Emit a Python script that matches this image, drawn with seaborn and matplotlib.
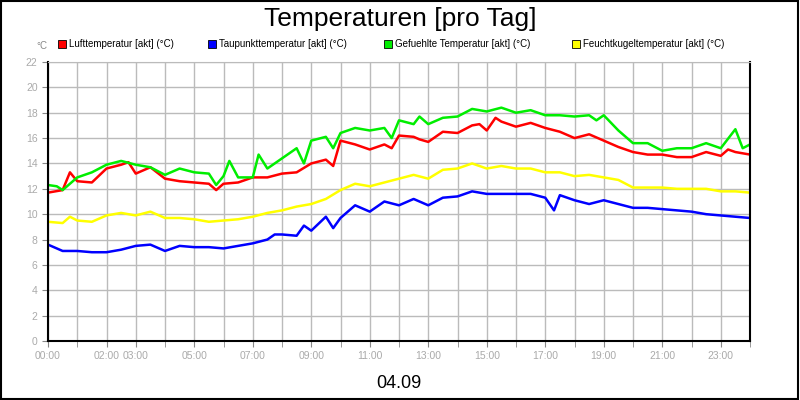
import numpy as np
import pandas as pd
import matplotlib
matplotlib.use("Agg")
import matplotlib.pyplot as plt
import seaborn as sns
from matplotlib.patches import Rectangle

plt.rcParams["font.family"] = "Liberation Sans"

# data (hour of day, degC)
t_luft = [0, .5, .75, 1, 1.5, 2, 2.5, 2.75, 3, 3.5, 4, 4.5, 5, 5.5, 5.75, 6, 6.5, 7, 7.5, 8, 8.5, 9, 9.5, 9.75,
          10, 10.5, 11, 11.5, 11.75, 12, 12.5, 12.7, 13, 13.5, 14, 14.5, 14.75, 15, 15.3, 15.5, 16, 16.5, 17,
          17.5, 18, 18.5, 19, 19.5, 20, 20.5, 21, 21.5, 22, 22.5, 23, 23.25, 23.5, 24]
v_luft = [11.7, 11.9, 13.3, 12.6, 12.5, 13.6, 13.9, 14.1, 13.2, 13.7, 12.8, 12.6, 12.5, 12.4, 11.9, 12.4, 12.5,
          12.9, 12.9, 13.2, 13.3, 14.0, 14.3, 13.8, 15.8, 15.5, 15.1, 15.5, 15.2, 16.2, 16.1, 15.9, 15.7, 16.5,
          16.4, 17.0, 17.1, 16.6, 17.6, 17.3, 16.9, 17.2, 16.8, 16.5, 16.0, 16.3, 15.8, 15.3, 14.9, 14.7, 14.7,
          14.5, 14.5, 14.9, 14.6, 15.1, 14.9, 14.7]

t_taup = [0, .5, 1, 1.5, 2, 2.5, 3, 3.5, 4, 4.5, 5, 5.5, 6, 6.5, 7, 7.5, 7.75, 8, 8.5, 8.75, 9, 9.5, 9.75, 10,
          10.5, 11, 11.5, 12, 12.5, 13, 13.5, 14, 14.5, 15, 15.5, 16, 16.5, 17, 17.3, 17.5, 18, 18.5, 19, 19.5,
          20, 20.5, 21, 21.5, 22, 22.5, 23, 23.5, 24]
v_taup = [7.6, 7.1, 7.1, 7.0, 7.0, 7.2, 7.5, 7.6, 7.1, 7.5, 7.4, 7.4, 7.3, 7.5, 7.7, 8.0, 8.4, 8.4, 8.3, 9.1,
          8.7, 9.8, 8.9, 9.7, 10.7, 10.2, 11.0, 10.7, 11.2, 10.7, 11.3, 11.4, 11.8, 11.6, 11.6, 11.6, 11.6,
          11.3, 10.3, 11.5, 11.1, 10.8, 11.1, 10.8, 10.5, 10.5, 10.4, 10.3, 10.2, 10.0, 9.9, 9.8, 9.7]

t_gef = [0, .3, .5, 1, 1.5, 2, 2.5, 3, 3.5, 4, 4.5, 5, 5.5, 5.75, 6, 6.2, 6.5, 7, 7.2, 7.5, 8, 8.5, 8.75, 9, 9.5,
         9.75, 10, 10.5, 11, 11.5, 11.75, 12, 12.5, 12.7, 13, 13.5, 14, 14.5, 15, 15.5, 16, 16.5, 17, 17.5, 18,
         18.5, 18.75, 19, 19.5, 20, 20.5, 21, 21.5, 22, 22.5, 23, 23.5, 23.75, 24]
v_gef = [12.3, 12.2, 11.9, 12.9, 13.3, 13.9, 14.2, 13.9, 13.7, 13.1, 13.6, 13.3, 13.2, 12.3, 13.0, 14.2, 12.9,
         12.9, 14.7, 13.6, 14.4, 15.2, 14.0, 15.8, 16.1, 15.2, 16.4, 16.8, 16.6, 16.8, 16.0, 17.4, 17.1, 17.7,
         17.1, 17.6, 17.7, 18.3, 18.1, 18.4, 18.0, 18.2, 17.8, 17.8, 17.7, 17.8, 17.4, 17.8, 16.6, 15.6, 15.6,
         15.0, 15.2, 15.2, 15.6, 15.2, 16.7, 15.2, 15.5]

t_feucht = [0, .5, .75, 1, 1.5, 2, 2.5, 3, 3.5, 4, 4.5, 5, 5.5, 6, 6.5, 7, 7.5, 8, 8.5, 9, 9.5, 10, 10.5, 11,
            11.5, 12, 12.5, 13, 13.5, 14, 14.5, 15, 15.5, 16, 16.5, 17, 17.5, 18, 18.5, 19, 19.5, 20, 20.5,
            21, 21.5, 22, 22.5, 23, 23.5, 24]
v_feucht = [9.4, 9.3, 9.8, 9.5, 9.4, 9.9, 10.1, 9.9, 10.2, 9.7, 9.7, 9.6, 9.4, 9.5, 9.6, 9.8, 10.1, 10.3, 10.6,
            10.8, 11.2, 11.9, 12.4, 12.2, 12.5, 12.8, 13.1, 12.8, 13.5, 13.6, 14.0, 13.6, 13.8, 13.6, 13.6,
            13.3, 13.3, 13.0, 13.1, 12.9, 12.7, 12.1, 12.1, 12.1, 12.0, 12.0, 12.0, 11.8, 11.8, 11.7]

names = ["Lufttemperatur [akt] (°C)", "Taupunkttemperatur [akt] (°C)",
         "Gefuehlte Temperatur [akt] (°C)", "Feuchtkugeltemperatur [akt] (°C)"]
colors = ["#ff0000", "#0000ff", "#00ee00", "#ffff00"]
tick_hours = [0, 2, 3, 5, 7, 9, 11, 13, 15, 17, 19, 21, 23]

frames = []
for n, t, v in zip(names, [t_luft, t_taup, t_gef, t_feucht], [v_luft, v_taup, v_gef, v_feucht]):
    frames.append(pd.DataFrame({"h": t, "v": v, "s": n}))
df = pd.concat(frames)

fig = plt.figure(figsize=(8, 4), dpi=100)
fig.patches.append(Rectangle((0.001, 0.002), 0.997, 0.996, transform=fig.transFigure,
                             fill=False, edgecolor="black", linewidth=1.5))
ax = fig.add_axes([0.06, 0.1475, 0.8775, 0.6975])
sns.lineplot(data=df, x="h", y="v", hue="s", palette=colors, ax=ax, linewidth=1.8, legend=False)

ax.set_xlim(0, 24)
ax.set_ylim(0, 22)
ax.set_xticks(range(25), minor=True)
ax.set_xticks(tick_hours)
ax.set_xticklabels(["%02d:00" % h for h in tick_hours])
ax.set_yticks(range(0, 23, 2))
ax.grid(True, which="both", color="#bbbbbb", linewidth=1)
ax.set_axisbelow(True)
ax.tick_params(labelsize=7.5, labelcolor="#aaaaaa", color="#888888", length=4)
ax.tick_params(which="minor", color="#888888", length=4)
for s in ["left", "bottom", "right"]:
    ax.spines[s].set_color("black")
    ax.spines[s].set_linewidth(1.5)
ax.spines["top"].set_color("#bbbbbb")
ax.set_xlabel("04.09", fontsize=13, labelpad=10)
ax.set_ylabel("")

fig.text(0.5, 0.952, "Temperaturen [pro Tag]", ha="center", va="center", fontsize=19)
fig.text(0.045, 0.877, "°C", fontsize=7, color="#888888")
xs = [0.072, 0.26, 0.48, 0.715]
for x0, n, c in zip(xs, names, colors):
    fig.patches.append(Rectangle((x0, 0.88), 0.01, 0.02, transform=fig.transFigure,
                                 facecolor=c, edgecolor="black", linewidth=0.6))
    fig.text(x0 + 0.014, 0.89, n, fontsize=7, va="center")

fig.savefig("out.png", dpi=100)
